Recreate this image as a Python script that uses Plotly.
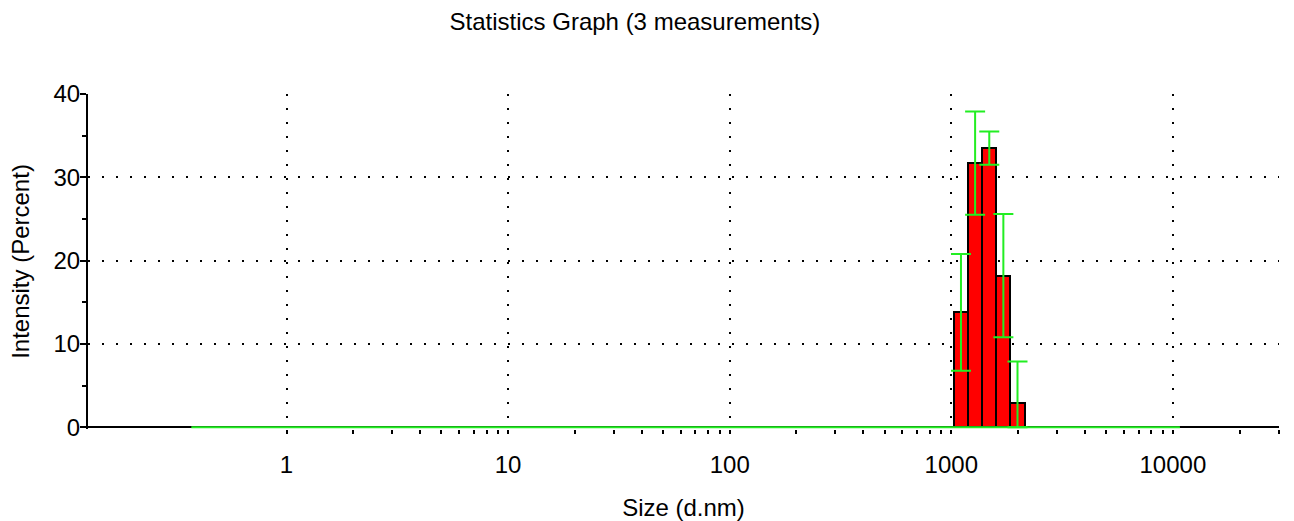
import numpy as np
import plotly.graph_objects as go

# Zetasizer size classes (d.nm), 70 log-spaced bins
sizes = [0.4, 0.4632, 0.5365, 0.6213, 0.7195, 0.8332, 0.9649, 1.117, 1.294, 1.499,
         1.736, 2.01, 2.328, 2.696, 3.122, 3.615, 4.187, 4.849, 5.615, 6.503,
         7.531, 8.721, 10.1, 11.7, 13.54, 15.69, 18.17, 21.04, 24.36, 28.21,
         32.67, 37.84, 43.82, 50.75, 58.77, 68.06, 78.82, 91.28, 105.7, 122.4,
         141.8, 164.2, 190.1, 220.2, 255.0, 295.3, 342.0, 396.1, 458.7, 531.2,
         615.1, 712.4, 825.0, 955.4, 1106, 1281, 1484, 1718, 1990, 2305,
         2669, 3091, 3580, 4145, 4801, 5560, 6439, 7456, 8635, 10000]
intensity = [0.0] * 70
intensity[54] = 13.8
intensity[55] = 31.7
intensity[56] = 33.5
intensity[57] = 18.2
intensity[58] = 2.9
std_dev = [0.0] * 70
std_dev[54] = 7.0
std_dev[55] = 6.2
std_dev[56] = 2.0
std_dev[57] = 7.4
std_dev[58] = 5.0

major_ticks = [1, 10, 100, 1000, 10000]
major_labels = ["1", "10", "100", "1000", "10000"]
minor_ticks = [m * d for d in [1, 10, 100, 1000] for m in range(2, 10)] + [20000, 30000]
y_major = [0, 10, 20, 30, 40]
y_minor = [5, 15, 25, 35]

title_text = "Statistics Graph (3 measurements)"
x_title = "Size (d.nm)"
y_title = "Intensity (Percent)"

logx = np.log10(sizes)
step = float(np.mean(np.diff(logx)))
vals = np.array(intensity)
errs = np.array(std_dev)
err_minus = np.minimum(errs, vals)

FONT = "Liberation Sans, Arial, sans-serif"
FS = 24
GREEN = "#22EE22"

fig = go.Figure()
# green baseline across the size classes
fig.add_trace(go.Scatter(
    x=[logx[0] - step / 2, logx[-1] + step / 2], y=[0, 0], mode="lines",
    line=dict(color=GREEN, width=2), hoverinfo="skip", showlegend=False))
nz = vals > 0
fig.add_trace(go.Bar(
    x=logx[nz], y=vals[nz], width=step,
    marker=dict(color="#FF0000", line=dict(color="black", width=2)),
    error_y=dict(type="data", symmetric=False, array=errs[nz], arrayminus=err_minus[nz],
                 color=GREEN, thickness=2, width=10),
    showlegend=False))

xr = [-0.896, 4.479]
yr = [-0.2, 40]
fig.update_layout(
    width=1294, height=521,
    margin=dict(l=88, r=15, t=94, b=92),
    plot_bgcolor="white", paper_bgcolor="white",
    font=dict(family=FONT, size=FS, color="black"),
    bargap=0,
    title=dict(text=title_text, x=0.4907, xref="container", xanchor="center",
               y=1 - 22 / 521, yref="container", yanchor="middle",
               font=dict(family=FONT, size=FS, color="black")),
    xaxis=dict(range=xr, tickmode="array", tickvals=np.log10(major_ticks).tolist(),
               ticktext=major_labels, ticks="outside", ticklen=4, tickwidth=2,
               tickcolor="black", showline=False, automargin=False,
               ticklabelstandoff=10,
               showgrid=True, gridcolor="black", gridwidth=2, griddash="2px,12px",
               zeroline=False,
               minor=dict(tickvals=np.log10(minor_ticks).tolist(), ticks="outside",
                          ticklen=4, tickwidth=2, tickcolor="black", showgrid=False),
               title=dict(text=x_title, standoff=24, font=dict(size=FS))),
    xaxis2=dict(range=xr, overlaying="x", anchor="y", side="bottom",
                tickmode="array", tickvals=np.log10(major_ticks + minor_ticks).tolist(),
                ticks="inside", ticklen=4, tickwidth=2, tickcolor="black",
                showticklabels=False, showgrid=False, showline=False, zeroline=False),
    yaxis=dict(range=yr, tickmode="array", tickvals=y_major,
               ticks="outside", ticklen=6, tickwidth=2, tickcolor="black",
               showline=True, linecolor="black", linewidth=2, automargin=False,
               ticklabelstandoff=-5,
               showgrid=True, gridcolor="black", gridwidth=2, griddash="2px,12px",
               zeroline=True, zerolinecolor="black", zerolinewidth=2,
               minor=dict(tickvals=y_minor, ticks="outside", ticklen=4, tickwidth=2,
                          tickcolor="black", showgrid=False),
               title=dict(text=y_title, standoff=17, font=dict(size=FS))),
    yaxis2=dict(range=yr, overlaying="y", anchor="x", side="left",
                tickmode="array", tickvals=y_minor, ticks="inside", ticklen=4,
                tickwidth=2, tickcolor="black", showticklabels=False,
                showgrid=False, showline=False, zeroline=False),
)
fig.write_html("out.html", config={"displayModeBar": False},
               post_script="document.body.style.margin='0px';")
